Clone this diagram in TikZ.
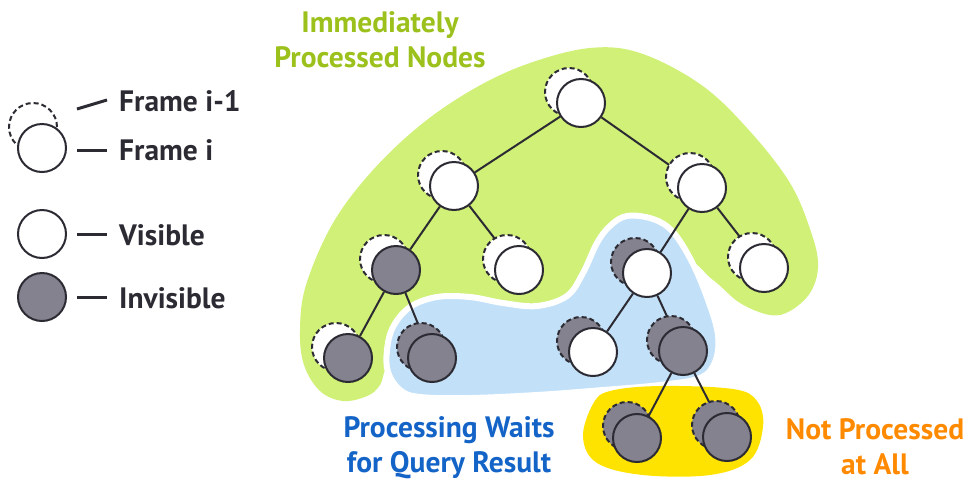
\documentclass[tikz,border=0pt]{standalone}
\usepackage{fontspec}
\setmainfont{PT Sans}
\pgfdeclarelayer{blobs}
\pgfdeclarelayer{edges}
\pgfsetlayers{blobs,edges,main}
\definecolor{lc}{HTML}{2C2B33}
\definecolor{gfill}{HTML}{84828F}
\definecolor{lime}{HTML}{D0F077}
\definecolor{sky}{HTML}{C2E1F8}
\definecolor{yel}{HTML}{FFE300}
\definecolor{tgreen}{HTML}{9CC11C}
\definecolor{tblue}{HTML}{1464C8}
\definecolor{torange}{HTML}{FF8A00}
\tikzset{
  cur/.style={circle, draw=lc, line width=2pt, minimum size=48pt, inner sep=0pt},
  curw/.style={cur, fill=white},
  curd/.style={cur, fill=gfill},
  prv/.style={circle, draw=lc, line width=2pt, dash pattern=on 5pt off 3pt, minimum size=48pt, inner sep=0pt},
  prevw/.style={prv, fill=white},
  prevd/.style={prv, fill=gfill},
  edge/.style={draw=lc, line width=2pt},
  legline/.style={draw=lc, line width=3pt},
  lab/.style={font=\bfseries\fontsize{29.5}{35}\selectfont, align=center, inner sep=0pt},
  legtext/.style={lab, text=lc, anchor=west},
}
\begin{document}
\begin{tikzpicture}[x=1pt,y=-1pt]
\useasboundingbox (0,0) rectangle (968,485);
% blobs
\begin{pgfonlayer}{blobs}
\fill[lime] plot[smooth cycle, tension=0.6] coordinates {
  (343,401) (320,391) (304,365) (300,330) (306,285) (333,223) (373,170)
  (423,123) (477,87) (530,63) (590,48) (640,53) (700,84) (747,128)
  (790,183) (812,235) (818,267) (810,293) (790,311) (770,315) (740,303)
  (713,280) (680,260) (620,300) (540,330) (440,335) (392,360) (380,385) (367,396)};
\path[fill=sky, draw=white, line width=6pt] plot[smooth cycle, tension=0.6] coordinates {
  (627,216) (653,219) (673,232) (692,262) (708,300) (718,335) (715,362)
  (700,378) (660,385) (603,390) (537,395) (470,398) (420,397) (400,390)
  (388,372) (387,350) (393,327) (410,307) (437,297) (470,297) (503,303)
  (537,306) (567,296) (583,273) (597,243) (610,226)};
\fill[yel] plot[smooth cycle, tension=0.6] coordinates {
  (610,391) (660,386) (733,389) (757,401) (763,427) (750,460) (710,475)
  (643,475) (597,463) (583,437) (593,404)};
\end{pgfonlayer}
% tree nodes
\node[prevw] (pr) at (569,92) {};  \node[curw] (r) at (581,103) {};
\node[prevw] (pa) at (442,175) {}; \node[curw] (a) at (454,186) {};
\node[prevw] (pb) at (690,177) {}; \node[curw] (b) at (702,188) {};
\node[prevw] (pc) at (384,259) {}; \node[curd] (c) at (396,270) {};
\node[prevw] (pd) at (507,259) {}; \node[curw] (d) at (519,270) {};
\node[prevd] (pe) at (635,262) {}; \node[curw] (e) at (647,273) {};
\node[prevw] (pf) at (752,257) {}; \node[curw] (f) at (764,268) {};
\node[prevw] (pg) at (336,347) {}; \node[curd] (g) at (348,358) {};
\node[prevd] (ph) at (421,347) {}; \node[curd] (h) at (432,358) {};
\node[prevd] (pi) at (581,341) {}; \node[curw] (i) at (593,352) {};
\node[prevd] (pj) at (671,340) {}; \node[curd] (j) at (683,351) {};
\node[prevd] (pk) at (627,426) {}; \node[curd] (k) at (637,438) {};
\node[prevd] (pl) at (716,425) {}; \node[curd] (l) at (727,437) {};
\begin{pgfonlayer}{edges}
\draw[edge] (r) -- (a); \draw[edge] (r) -- (b);
\draw[edge] (a) -- (c); \draw[edge] (a) -- (d);
\draw[edge] (b) -- (e); \draw[edge] (b) -- (f);
\draw[edge] (c) -- (g); \draw[edge] (c) -- (h);
\draw[edge] (e) -- (i); \draw[edge] (e) -- (j);
\draw[edge] (j) -- (k); \draw[edge] (j) -- (l);
\end{pgfonlayer}
% legend
\node[prevw] (lp) at (33,127) {}; \node[curw] (lcur) at (42,148) {};
\node[curw] (lv) at (42,234) {};
\node[curd] (li) at (42,297) {};
\node[legtext] (t1) at (119,101) {Frame i-1};
\node[legtext] (t2) at (119,150) {Frame i};
\node[legtext] (t3) at (119,235) {Visible};
\node[legtext] (t4) at (119,298) {Invisible};
\coordinate (l1a) at (77,109); \coordinate (l1b) at (107,100);
\coordinate (l2a) at (77,150); \coordinate (l2b) at (107,150);
\coordinate (l3a) at (77,234); \coordinate (l3b) at (107,234);
\coordinate (l4a) at (77,297); \coordinate (l4b) at (107,297);
\draw[legline] (l1a) -- (l1b);
\draw[legline] (l2a) -- (l2b);
\draw[legline] (l3a) -- (l3b);
\draw[legline] (l4a) -- (l4b);
% labels
\node[lab, text=tgreen] (tg) at (380,40) {Immediately\\Processed Nodes};
\node[lab, text=tblue] (tb) at (449,448) {Processing Waits\\for Query Result};
\node[lab, text=torange] (to) at (875,447) {Not Processed\\at All};
\end{tikzpicture}
\end{document}
